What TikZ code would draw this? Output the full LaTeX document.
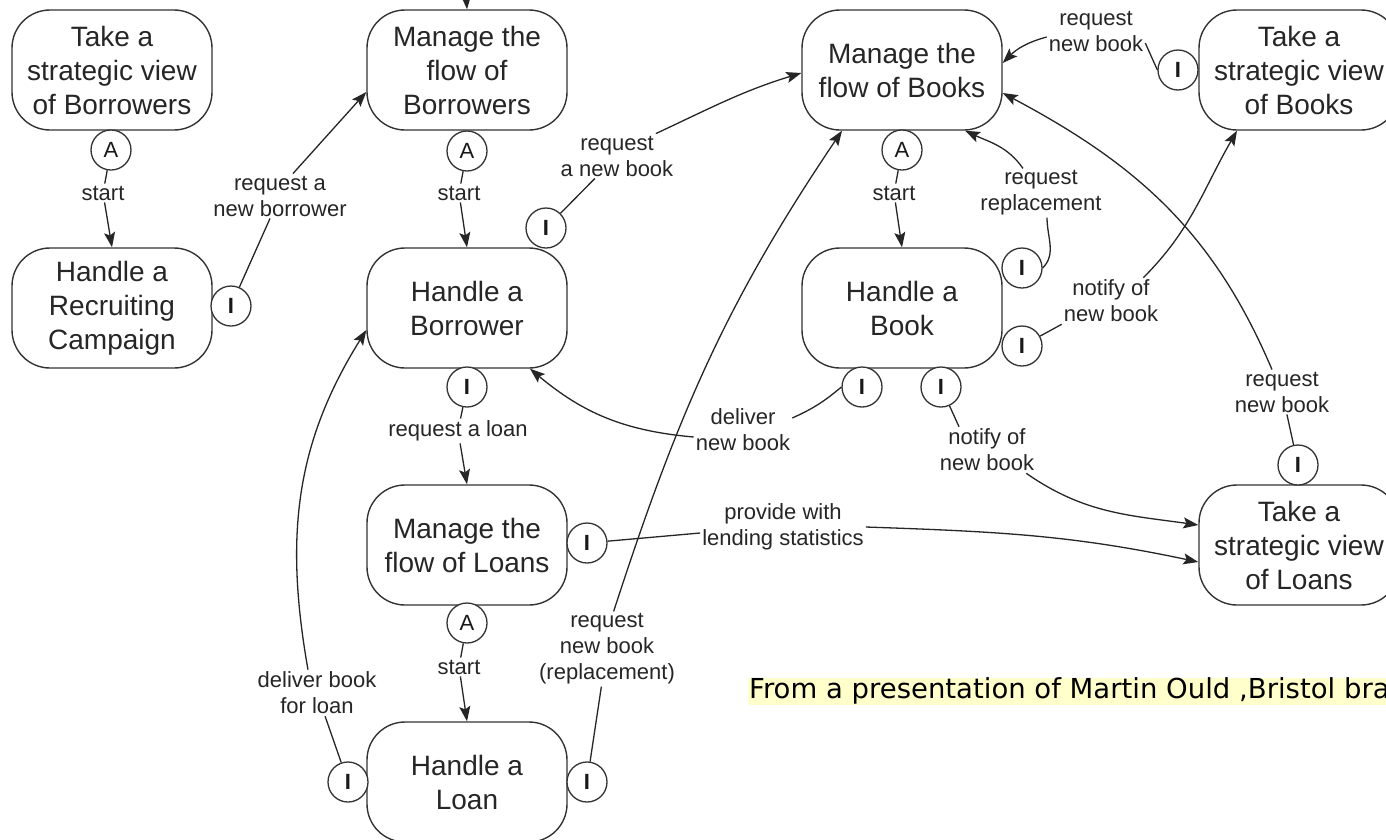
\documentclass[tikz,border=0pt]{standalone}
\usepackage{fontspec}
\setmainfont{Liberation Sans}
\newfontfamily\footfont{DejaVu Sans}
\usepackage{tikz}
\usetikzlibrary{arrows.meta}
\definecolor{hilite}{HTML}{FFFFCC}

\begin{document}
\begin{tikzpicture}[x=1pt, y=-1pt,
  proc/.style={draw=black!80, line width=1.4pt, rounded corners=38pt, minimum width=200pt, minimum height=120pt, align=center, text=black!85, font=\fontsize{28}{34}\selectfont},
  port/.style={draw=black!80, line width=1.3pt, circle, fill=white, minimum size=40pt, inner sep=0pt, text=black!90, font=\fontsize{22}{22}\selectfont},
  lbl/.style={align=center, inner sep=2pt, text=black!85, font=\fontsize{22}{26}\selectfont},
  tie/.style={line width=1.3pt, draw=black!85},
  flow/.style={tie, -{Stealth[length=15pt,width=11pt,inset=3pt]}}]
\useasboundingbox (0,0) rectangle (1386,839);
\clip (0,0) rectangle (1386,839);
\fill[white] (0,0) rectangle (1386,839);

% Processes
\node[proc] (tsBorrowers) at (112,70) {Take a\\strategic view\\of Borrowers};
\node[proc] (mfBorrowers) at (467,70) {Manage the\\flow of\\Borrowers};
\node[proc] (mfBooks) at (902,70) {Manage the\\flow of Books};
\node[proc] (tsBooks) at (1299,70) {Take a\\strategic view\\of Books};
\node[proc] (hRecruit) at (112,308) {Handle a\\Recruiting\\Campaign};
\node[proc] (hBorrower) at (467,308) {Handle a\\Borrower};
\node[proc] (hBook) at (902,308) {Handle a\\Book};
\node[proc] (mfLoans) at (467,545) {Manage the\\flow of Loans};
\node[proc] (tsLoans) at (1299,545) {Take a\\strategic view\\of Loans};
\node[proc] (hLoan) at (467,782) {Handle a\\Loan};

% Ports (A = activate, I = interact)
\node[port] (aTSB) at (111,150) {A};
\node[port] (iHRC) at (231,306) {\bfseries I};
\node[port] (aMFB) at (467,151) {A};
\node[port] (iHB1) at (546,228) {\bfseries I};
\node[port] (iHB2) at (467,387) {\bfseries I};
\node[port] (aMFBk) at (902,150) {A};
\node[port] (iHBk1) at (1022,268) {\bfseries I};
\node[port] (iHBk2) at (1022,346) {\bfseries I};
\node[port] (iHBk3) at (862,387) {\bfseries I};
\node[port] (iHBk4) at (941,387) {\bfseries I};
\node[port] (iTSBk) at (1178,70) {\bfseries I};
\node[port] (iTSL) at (1298,465) {\bfseries I};
\node[port] (iMFL) at (587,543) {\bfseries I};
\node[port] (aMFL) at (467,623) {A};
\node[port] (iHL1) at (348,782) {\bfseries I};
\node[port] (iHL2) at (587,782) {\bfseries I};

% Labels
\node[lbl] (lStart1) at (103,193) {start};
\node[lbl] (lReqBorrower) at (280,196) {request a\\new borrower};
\node[lbl] (lStart2) at (459,193) {start};
\node[lbl] (lReqBook1) at (617,156) {request\\a new book};
\node[lbl] (lStart3) at (894,193) {start};
\node[lbl] (lReqNewBook) at (1096,31) {request\\new book};
\node[lbl] (lReqRepl) at (1041,193) {request\\replacement};
\node[lbl] (lNotify1) at (1111,301) {notify of\\new book};
\node[lbl] (lReqNewBook2) at (1282,392) {request\\new book};
\node[lbl] (lDeliverNew) at (743,430) {deliver\\new book};
\node[lbl] (lNotify2) at (987,450) {notify of\\new book};
\node[lbl] (lReqLoan) at (458,431) {request a loan};
\node[lbl] (lProvide) at (783,527) {provide with\\lending statistics};
\node[lbl] (lStart4) at (459,667) {start};
\node[lbl] (lReqRepl2) at (607,649) {request\\new book\\(replacement)};
\node[lbl] (lDeliverLoan) at (317,693) {deliver book\\for loan};
\coordinate (fromAbove) at (465,-20);

% Borrowers
\draw[tie] (aTSB) -- (lStart1);
\draw[flow] (lStart1) -- (hRecruit.north);
\draw[tie] (iHRC) -- (lReqBorrower);
\draw[flow] (lReqBorrower.60) -- ([yshift=-22pt]mfBorrowers.west);
\draw[flow] (fromAbove) -- (mfBorrowers.north);
\draw[tie] (aMFB) -- (lStart2);
\draw[flow] (lStart2) -- (hBorrower.north);
\draw[tie] (iHB1) -- (lReqBook1);
\draw[flow] (lReqBook1.30) to[out=25,in=-163] ([yshift=-3pt]mfBooks.west);

% Loans
\draw[tie] (iHB2) -- (lReqLoan);
\draw[flow] (lReqLoan) -- (mfLoans.north);
\draw[tie] (iMFL) -- ([yshift=-6pt]lProvide.west);
\draw[flow] (lProvide.east) to[out=-2,in=168] ([yshift=-17pt]tsLoans.west);
\draw[tie] (aMFL) -- (lStart4);
\draw[flow] (lStart4) -- (hLoan.north);
\draw[tie] (iHL1) -- (lDeliverLoan);
\draw[flow] ([xshift=-9pt]lDeliverLoan.north) to[out=100,in=238] ([yshift=-22pt]hBorrower.west);
\draw[tie] (iHL2) -- (lReqRepl2);
\draw[flow] (lReqRepl2.80) to[out=72,in=236] ([xshift=-60pt]mfBooks.south);

% Books
\draw[tie] (aMFBk) -- (lStart3);
\draw[flow] (lStart3) -- (hBook.north);
\draw[tie] (iHBk3.west) to[bend left=8] ([yshift=12pt]lDeliverNew.east);
\draw[flow] ([yshift=-7pt]lDeliverNew.west) to[out=175,in=-40] ([xshift=63pt]hBorrower.south);
\draw[tie] (iHBk4) -- ([xshift=-28pt]lNotify2.north);
\draw[flow] ([xshift=-10pt]lNotify2.south east) to[out=-35,in=172] ([yshift=20pt]tsLoans.west);
\draw[tie] (iHBk1.east) to[out=45,in=-90] ([xshift=6pt]lReqRepl.south);
\draw[flow] ([xshift=-18pt]lReqRepl.north) to[out=125,in=-25] ([xshift=63pt]mfBooks.south);
\draw[tie] (iHBk2) -- (lNotify1.south west);
\draw[flow] ([xshift=-17pt]lNotify1.north east) to[out=45,in=240] ([xshift=-62pt]tsBooks.south);
\draw[tie] (iTSBk.west) -- ([yshift=-12pt]lReqNewBook.east);
\draw[flow] ([yshift=-6pt]lReqNewBook.west) to[out=195,in=45] ([yshift=7pt]mfBooks.east);
\draw[tie] (iTSL) -- (lReqNewBook2);
\draw[flow] ([xshift=-10pt]lReqNewBook2.north) to[out=113,in=-28] ([yshift=-23pt]mfBooks.east);

% Source note
\node[anchor=west, fill=hilite, inner sep=1pt, text height=20pt, text depth=5pt, font=\footfont\fontsize{27.5}{31}\selectfont] (note) at (748,691) {From a presentation of Martin Ould ,Bristol bra};
\end{tikzpicture}
\end{document}
